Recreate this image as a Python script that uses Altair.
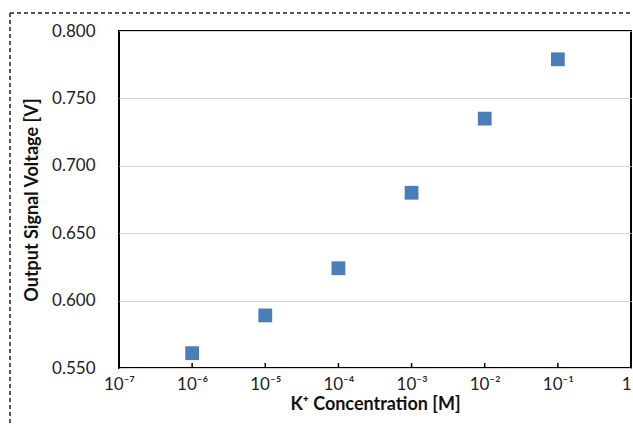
import altair as alt
import pandas as pd

# Measured output voltage versus potassium concentration
concentration = [1e-6, 1e-5, 1e-4, 1e-3, 1e-2, 1e-1]
voltage = [0.561, 0.589, 0.624, 0.680, 0.735, 0.779]

x_ticks = [1e-7, 1e-6, 1e-5, 1e-4, 1e-3, 1e-2, 1e-1, 1]
x_tick_labels = ["10⁻⁷", "10⁻⁶", "10⁻⁵", "10⁻⁴", "10⁻³", "10⁻²", "10⁻¹", "1"]
y_ticks = [0.55, 0.60, 0.65, 0.70, 0.75, 0.80]

FONT = "Lato"
W, H = 512, 337

df = pd.DataFrame({"conc": concentration, "volt": voltage})
ticks_df = pd.DataFrame({"conc": x_ticks[1:-1]})

label_map = "{" + ", ".join(
    f"'{i}': '{t}'" for i, t in enumerate(x_tick_labels)
) + "}"

x_scale = alt.Scale(type="log", domain=[1e-7, 1], nice=False)
y_scale = alt.Scale(domain=[0.55, 0.80], nice=False, zero=False)

points = alt.Chart(df).mark_square(size=190, color="#4a7ebb", opacity=1).encode(
    x=alt.X(
        "conc:Q",
        scale=x_scale,
        axis=alt.Axis(
            values=x_ticks,
            labelExpr=f"{label_map}[format(round(log(datum.value)/LN10) + 7, 'd')]",
            labelAlign={"condition": {"test": "datum.value >= 1", "value": "right"}, "value": "center"},
            title="K⁺ Concentration [M]",
            grid=False,
            ticks=False,
            domain=False,
            labelPadding=8,
            titlePadding=3,
            labelFlush=False,
        ),
    ),
    y=alt.Y(
        "volt:Q",
        scale=y_scale,
        axis=alt.Axis(
            values=y_ticks,
            format=".3f",
            title="Output Signal Voltage [V]",
            grid=True,
            ticks=False,
            domain=False,
            labelPadding=24,
            titlePadding=10,
        ),
    ),
)

# Inward-pointing tick marks along the bottom edge
inner_ticks = alt.Chart(ticks_df).mark_rule(color="black", strokeWidth=1.5).encode(
    x=alt.X("conc:Q", scale=x_scale),
    y=alt.value(H),
    y2=alt.value(H - 5),
)

# Dashed outer frame around the figure
frame_top = alt.Chart(df).mark_rule(
    color="#555555", strokeDash=[4, 3], strokeWidth=1, clip=False
).encode(x=alt.value(-109), x2=alt.value(W + 10), y=alt.value(-18))
frame_left = alt.Chart(df).mark_rule(
    color="#555555", strokeDash=[4, 3], strokeWidth=1, clip=False
).encode(x=alt.value(-109), y=alt.value(-18), y2=alt.value(H + 70))

chart = (
    alt.layer(points, inner_ticks, frame_top, frame_left)
    .properties(
        width=W,
        height=H,
        autosize=alt.AutoSizeParams(type="none"),
        padding={"left": 119, "top": 31, "right": 2, "bottom": 58},
        background="white",
    )
    .configure_view(stroke="black", strokeWidth=2)
    .configure_axis(
        labelFont=FONT,
        titleFont=FONT,
        labelFontSize=17,
        titleFontSize=18,
        titleFontWeight="bold",
        labelColor="#222222",
        titleColor="#111111",
        gridColor="#d4d4d4",
        gridWidth=1.2,
    )
)

chart.save("out.html", embed_options={"renderer": "svg", "actions": False})
